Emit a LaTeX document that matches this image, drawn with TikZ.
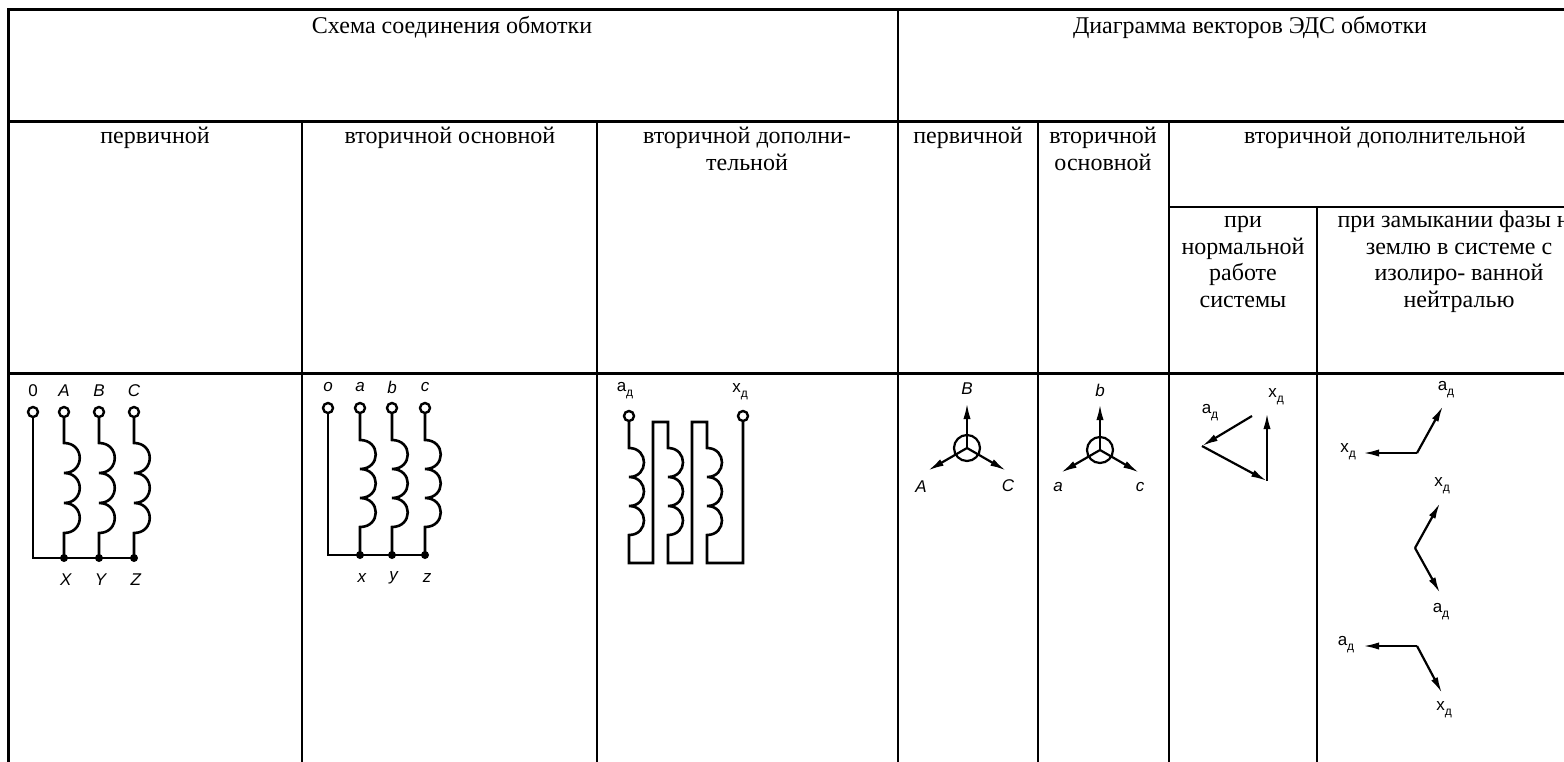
\documentclass[tikz,border=0pt]{standalone}
\usepackage{fontspec}
\setmainfont{Liberation Serif}
\newfontfamily\labfont{Liberation Sans}
\usetikzlibrary{arrows.meta}
\newcommand{\dsub}[1]{#1\raisebox{-0.55ex}{\fontsize{6}{6}\selectfont д}}

\begin{document}
\begin{tikzpicture}[x=0.5pt,y=-0.5pt,
    txt/.style={anchor=north,inner sep=0pt,align=center,font=\fontsize{12}{13.3}\selectfont},
    lbl/.style={inner sep=0pt,font=\labfont\fontsize{8.5}{9}\selectfont},
    term/.style={circle,draw,line width=1.2pt,minimum size=5pt,inner sep=0pt},
    wire/.style={line width=1.3pt},
    vec/.style={line width=1.1pt,-{Latex[length=8pt,width=3.6pt]}},
    tabline/.style={line width=1pt},
    tabthick/.style={line width=1.5pt}]
    \useasboundingbox (0,0) rectangle (1564,761);
    \clip (0,0) rectangle (1564,761);

    \draw[tabthick] (8,780) -- (8,9) -- (1601,9);
    \draw[tabthick] (8,121) -- (1601,121);
    \draw[tabthick] (8,373) -- (1601,373);
    \draw[tabline] (898,9) -- (898,780);
    \foreach \x in {302,597,1038,1169}
        \draw[tabline] (\x,121) -- (\x,780);
    \draw[tabline] (1169,207) -- (1601,207);
    \draw[tabline] (1317,207) -- (1317,780);

    \node[txt] (schema) at (452,14.4) {\strut Схема соединения обмотки};
    \node[txt] (diagr) at (1250,14.4) {\strut Диаграмма векторов ЭДС обмотки};
    \node[txt] (prim1) at (155,124.4) {\strut первичной};
    \node[txt] (sec1) at (450,124.4) {\strut вторичной основной};
    \node[txt] (add1) at (747,124.4) {\strut вторичной дополни-\\тельной};
    \node[txt] (prim2) at (968,124.4) {\strut первичной};
    \node[txt] (sec2) at (1103,124.4) {\strut вторичной\\основной};
    \node[txt] (add2) at (1385,124.4) {\strut вторичной дополнительной};
    \node[txt] (norm) at (1243,208.4) {\strut при\\нормальной\\работе\\системы};
    \node[txt] (fault) at (1459,208.4) {\strut при замыкании фазы на\\землю в системе с\\изолиро- ванной\\нейтралью};

    \foreach \n/\x/\t in {0/33/0,A/64/\textit{A},B/99/\textit{B},C/134/\textit{C}} {
        \node[term] (t\n) at (\x,412) {};
        \node[lbl] (l\n) at (\x,391) {\t};
    }
    \foreach \n/\x/\t in {X/64/\textit{X},Y/99/\textit{Y},Z/134/\textit{Z}} {
        \coordinate (n\n) at (\x,558);
        \node[lbl] (l\n) at (\x+2,580) {\t};
    }
    \coordinate (n0) at (33,558);
    \draw[wire] (t0) -- (n0) -- (nZ);
    \foreach \a/\b in {A/X,B/Y,C/Z}
        \draw[wire] (t\a) -- ++(0,31) \foreach \k in {1,2,3}{ .. controls +(21,0) and +(21,0) .. ++(0,30)} -- (n\b);
    \foreach \b in {X,Y,Z}
        \fill (n\b) circle (4);

    \foreach \n/\x in {o/328,a/360,b/392,c/425} {
        \node[term] (t\n) at (\x,408) {};
        \node[lbl] (l\n) at (\x,387) {\textit{\n}};
    }
    \foreach \n/\x in {x/360,y/392,z/425} {
        \coordinate (n\n) at (\x,555);
        \node[lbl] (l\n) at (\x+2,578) {\textit{\n}};
    }
    \coordinate (no) at (328,555);
    \draw[wire] (to) -- (no) -- (nz);
    \foreach \a/\b in {a/x,b/y,c/z}
        \draw[wire] (t\a) -- ++(0,32) \foreach \k in {1,2,3}{ .. controls +(21,0) and +(21,0) .. ++(0,29)} -- (n\b);
    \foreach \b in {x,y,z}
        \fill (n\b) circle (4);

    \node[term] (tad) at (629,416) {};
    \node[term] (txd) at (743,416) {};
    \node[lbl] (lad) at (625,391) {\dsub{a}};
    \node[lbl] (lxd) at (740,392) {\dsub{x}};
    \draw[wire] (tad) -- ++(0,32) \foreach \k in {1,2,3}{ .. controls +(20,0) and +(20,0) .. ++(0,29)}
        -- (629,563) -- (653,563) -- (653,422) -- (668,422)
        -- ++(0,26) \foreach \k in {1,2,3}{ .. controls +(20,0) and +(20,0) .. ++(0,29)}
        -- (668,563) -- (692,563) -- (692,422) -- (707,422)
        -- ++(0,26) \foreach \k in {1,2,3}{ .. controls +(20,0) and +(20,0) .. ++(0,29)}
        -- (707,563) -- (743,563) -- (txd);

    \coordinate (s1) at (967,448);
    \coordinate (vB) at (967,403);
    \coordinate (vA) at (928,470.5);
    \coordinate (vC) at (1006,470.5);
    \draw[line width=1.1pt] (s1) circle (13);
    \foreach \v in {vA,vB,vC}
        \draw[vec] (s1) -- (\v);
    \node[lbl] (lvB) at (967,389) {\textit{B}};
    \node[lbl] (lvA) at (921,487) {\textit{A}};
    \node[lbl] (lvC) at (1008,486) {\textit{C}};

    \coordinate (s2) at (1100,450);
    \coordinate (vb) at (1100,404);
    \coordinate (va) at (1061,472.5);
    \coordinate (vc) at (1139,472.5);
    \draw[line width=1.1pt] (s2) circle (13);
    \foreach \v in {va,vb,vc}
        \draw[vec] (s2) -- (\v);
    \node[lbl] (lvb) at (1100,390) {\textit{b}};
    \node[lbl] (lva) at (1058,487) {\textit{a}};
    \node[lbl] (lvc) at (1140,487) {\textit{c}};

    \coordinate (d1) at (1252,416);
    \coordinate (d2) at (1202,446);
    \coordinate (d3) at (1267,481);
    \coordinate (d4) at (1267,413);
    \draw[vec] (d1) -- (d2);
    \draw[vec] (d2) -- (d3);
    \draw[vec] (d3) -- (d4);
    \node[lbl] (lda) at (1210,413) {\dsub{a}};
    \node[lbl] (ldx) at (1276,397) {\dsub{x}};

    \coordinate (f1) at (1417,453);
    \draw[vec] (f1) -- (1363,453) coordinate (f1x);
    \draw[vec] (f1) -- (1443,406) coordinate (f1a);
    \node[lbl] (lf1x) at (1348,452) {\dsub{x}};
    \node[lbl] (lf1a) at (1446,390) {\dsub{a}};

    \coordinate (f2) at (1415,548);
    \draw[vec] (f2) -- (1440,503) coordinate (f2x);
    \draw[vec] (f2) -- (1440,593) coordinate (f2a);
    \node[lbl] (lf2x) at (1442,486) {\dsub{x}};
    \node[lbl] (lf2a) at (1441,612) {\dsub{a}};

    \coordinate (f3) at (1417,646);
    \draw[vec] (f3) -- (1363,646) coordinate (f3a);
    \draw[vec] (f3) -- (1442,693) coordinate (f3x);
    \node[lbl] (lf3a) at (1346,645) {\dsub{a}};
    \node[lbl] (lf3x) at (1444,710) {\dsub{x}};
\end{tikzpicture}
\end{document}
